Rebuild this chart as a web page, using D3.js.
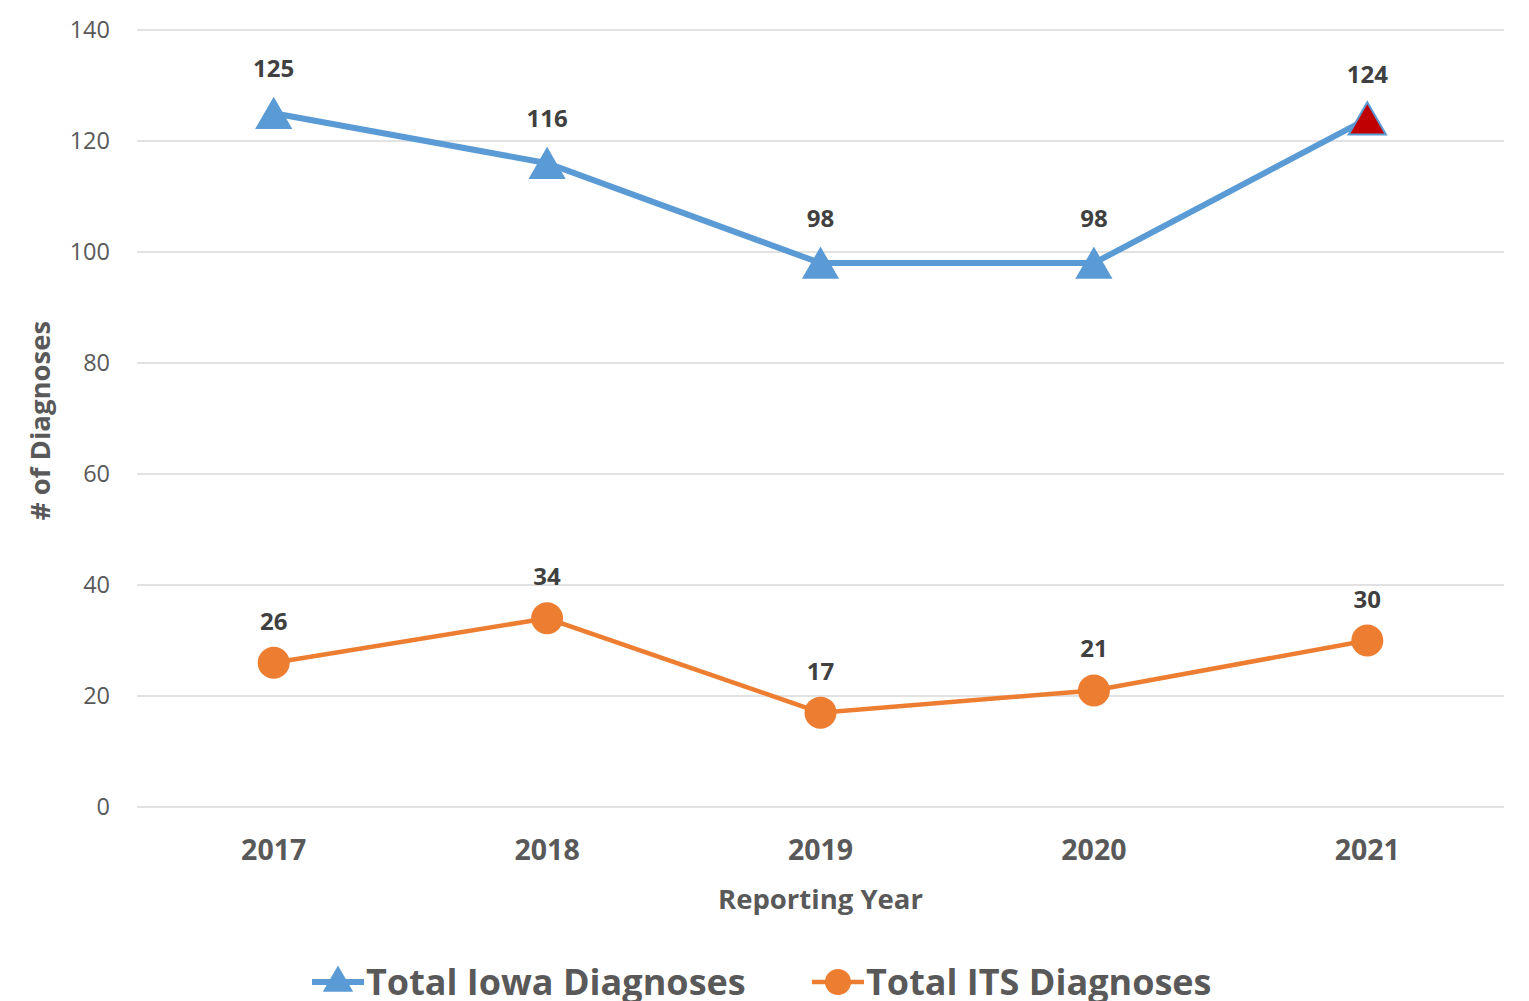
<!DOCTYPE html>
<html>
<head>
<meta charset="utf-8">
<script src="https://cdn.jsdelivr.net/npm/d3@7"></script>
<style>
  body { margin: 0; background: #fff; }
  text { font-family: "Open Sans", "Noto Sans", sans-serif; }
</style>
</head>
<body>
<div id="chart"></div>
<script>
// data
var years = ["2017", "2018", "2019", "2020", "2021"];
var iowaTotals = [125, 116, 98, 98, 124];
var itsTotals = [26, 34, 17, 21, 30];
var yTicks = [0, 20, 40, 60, 80, 100, 120, 140];

var W = 1529, H = 1001;
var margin = { top: 30, right: 25, bottom: 194, left: 137 },
  width = W - margin.left - margin.right,
  height = H - margin.top - margin.bottom;

var svg = d3.select("#chart")
  .append("svg")
  .attr("width", W)
  .attr("height", H)
  .append("g")
  .attr("transform", "translate(" + margin.left + "," + margin.top + ")");

var x = d3.scaleBand()
  .domain(years)
  .range([0, width])
  .padding(0);

var y = d3.scaleLinear()
  .domain([0, 140])
  .range([height, 0]);

// gridlines
svg.append("g")
  .selectAll("line")
  .data(yTicks)
  .enter().append("line")
  .attr("x1", 0)
  .attr("x2", width)
  .attr("y1", function (d) { return y(d); })
  .attr("y2", function (d) { return y(d); })
  .attr("stroke", "#d9d9d9")
  .attr("stroke-width", 1.5);

// y axis labels
var yAxis = svg.append("g")
  .call(d3.axisLeft(y).tickValues(yTicks).tickSize(0).tickPadding(27));
yAxis.select(".domain").remove();
yAxis.selectAll("text")
  .style("font-family", "'Open Sans', sans-serif")
  .style("font-size", "23.5px")
  .attr("fill", "#595959");

// x axis labels
var xAxis = svg.append("g")
  .attr("transform", "translate(0," + height + ")")
  .call(d3.axisBottom(x).tickSize(0).tickPadding(33));
xAxis.select(".domain").remove();
xAxis.selectAll("text")
  .style("font-family", "'Open Sans', sans-serif")
  .style("font-size", "28.5px")
  .style("font-weight", "bold")
  .attr("fill", "#595959");

// axis titles
svg.append("text")
  .attr("text-anchor", "middle")
  .attr("x", width / 2)
  .attr("y", height + 102)
  .style("font-size", "27.5px")
  .style("font-weight", "bold")
  .attr("fill", "#595959")
  .text("Reporting Year");

svg.append("text")
  .attr("text-anchor", "middle")
  .attr("transform", "rotate(-90)")
  .attr("x", -(y(70) + 2))
  .attr("y", -margin.left + 50)
  .style("font-size", "27.5px")
  .style("font-weight", "bold")
  .attr("fill", "#595959")
  .text("# of Diagnoses");

var cx = function (i) { return x(years[i]) + x.bandwidth() / 2; };
var line = d3.line()
  .x(function (d, i) { return cx(i); })
  .y(function (d) { return y(d); });

var blue = "#5B9BD5", orange = "#ED7D31";
var tri = d3.symbol().type(d3.symbolTriangle).size(600);

// Iowa series
svg.append("path")
  .datum(iowaTotals)
  .attr("fill", "none")
  .attr("stroke", blue)
  .attr("stroke-width", 6)
  .attr("d", line);

svg.selectAll(".iowa-pt")
  .data(iowaTotals)
  .enter().append("path")
  .attr("class", "iowa-pt")
  .attr("d", tri)
  .attr("transform", function (d, i) { return "translate(" + cx(i) + "," + (y(d) + 5) + ")"; })
  .attr("fill", function (d, i) { return i === iowaTotals.length - 1 ? "#C00000" : blue; })
  .attr("stroke", blue)
  .attr("stroke-width", function (d, i) { return i === iowaTotals.length - 1 ? 2 : 0; });

svg.selectAll(".iowa-lbl")
  .data(iowaTotals)
  .enter().append("text")
  .attr("text-anchor", "middle")
  .attr("x", function (d, i) { return cx(i); })
  .attr("y", function (d) { return y(d) - 36; })
  .style("font-size", "24px")
  .style("font-weight", "bold")
  .attr("fill", "#404040")
  .text(function (d) { return d; });

// ITS series
svg.append("path")
  .datum(itsTotals)
  .attr("fill", "none")
  .attr("stroke", orange)
  .attr("stroke-width", 4.5)
  .attr("d", line);

svg.selectAll(".its-pt")
  .data(itsTotals)
  .enter().append("circle")
  .attr("cx", function (d, i) { return cx(i); })
  .attr("cy", function (d) { return y(d); })
  .attr("r", 16)
  .attr("fill", orange);

svg.selectAll(".its-lbl")
  .data(itsTotals)
  .enter().append("text")
  .attr("text-anchor", "middle")
  .attr("x", function (d, i) { return cx(i); })
  .attr("y", function (d) { return y(d) - 33; })
  .style("font-size", "24px")
  .style("font-weight", "bold")
  .attr("fill", "#404040")
  .text(function (d) { return d; });

// legend
var root = d3.select("#chart svg");
var legendY = 982;
var legendItems = [
  { name: "Total Iowa Diagnoses", color: blue, x: 312, shape: "tri" },
  { name: "Total ITS Diagnoses", color: orange, x: 812, shape: "circle" }
];
legendItems.forEach(function (d) {
  var g = root.append("g").attr("transform", "translate(" + d.x + "," + legendY + ")");
  g.append("line")
    .attr("x1", 0).attr("x2", 52)
    .attr("stroke", d.color)
    .attr("stroke-width", d.shape === "tri" ? 6 : 4.5);
  if (d.shape === "tri") {
    g.append("path")
      .attr("d", d3.symbol().type(d3.symbolTriangle).size(400))
      .attr("transform", "translate(26,1)")
      .attr("fill", d.color);
  } else {
    g.append("circle").attr("cx", 26).attr("r", 13).attr("fill", d.color);
  }
  g.append("text")
    .attr("x", 54)
    .attr("y", 13)
    .style("font-size", "36px")
    .style("font-weight", "bold")
    .attr("fill", "#595959")
    .text(d.name);
});
</script>
</body>
</html>
